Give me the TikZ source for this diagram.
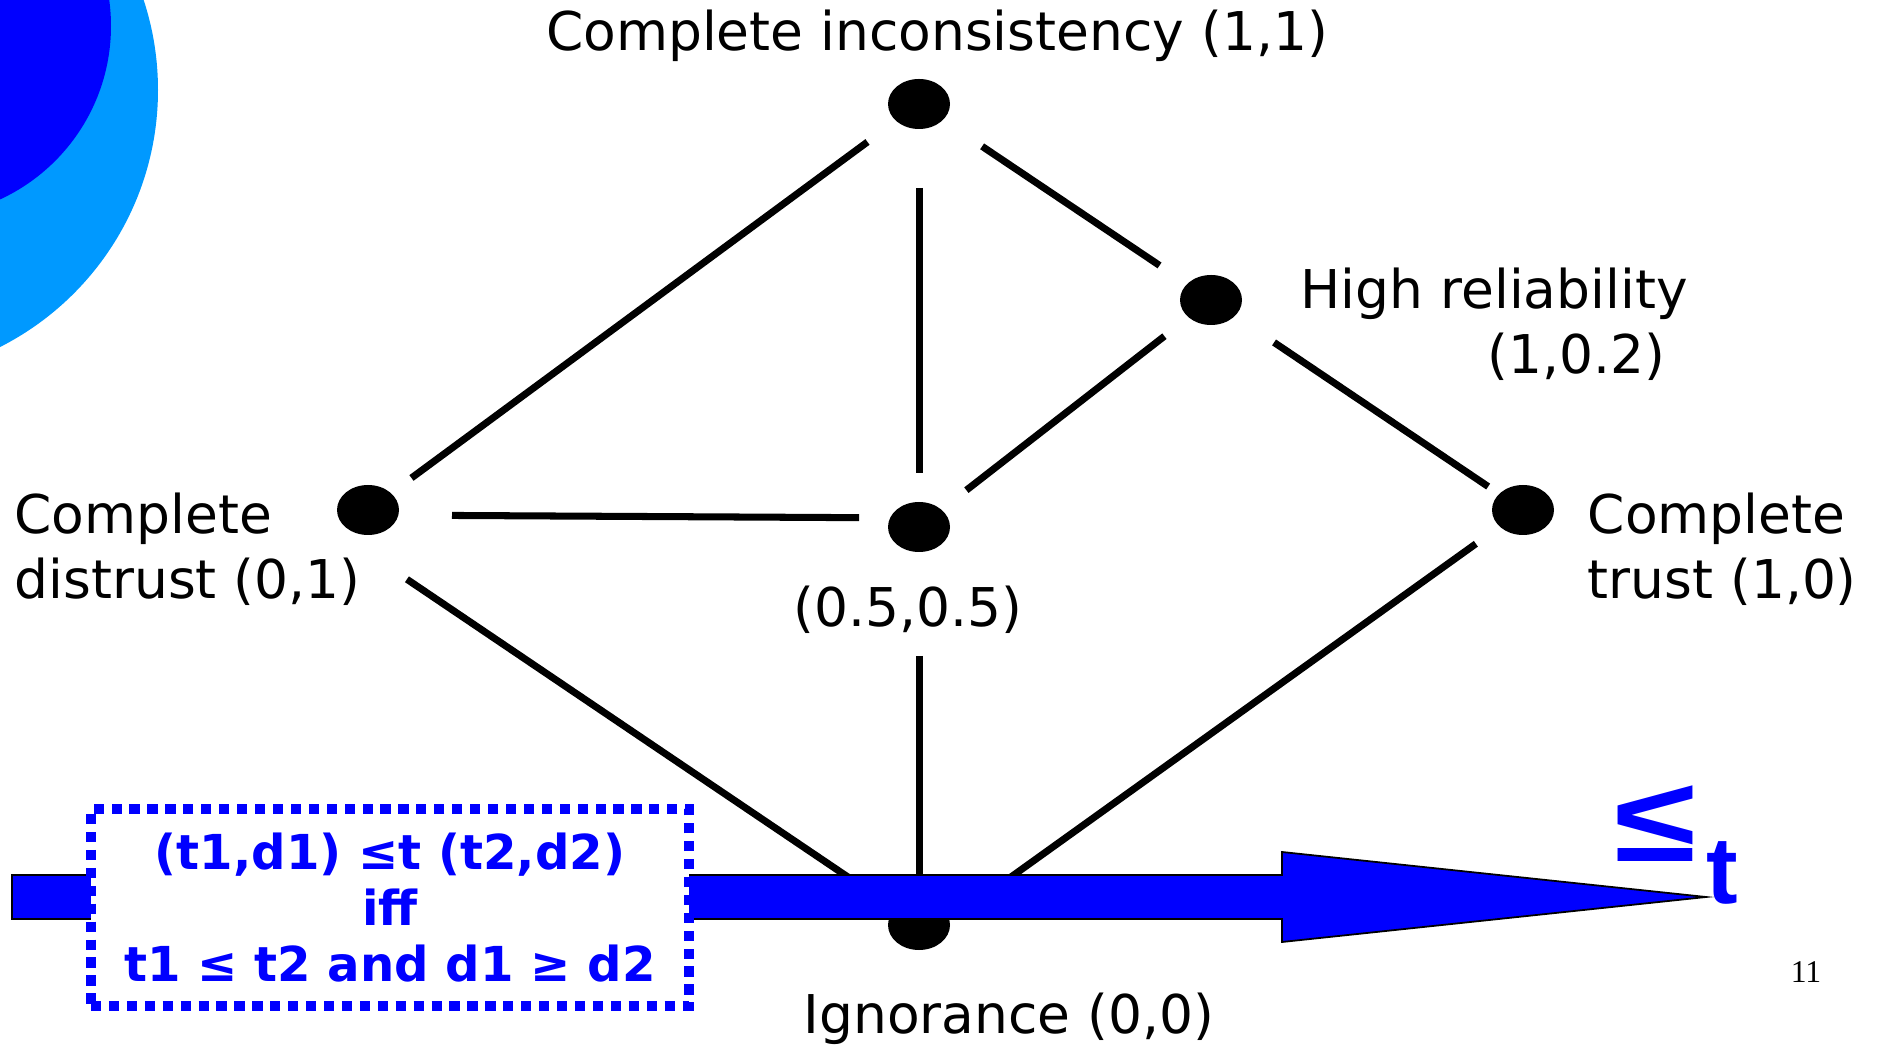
\documentclass[tikz,border=0pt]{standalone}
\usepackage{fontspec}
\setmainfont{DejaVu Sans}
\newfontfamily\pagenofont{Liberation Serif}
\newfontfamily\signfont{Liberation Sans}
\usetikzlibrary{shapes.geometric, positioning}
\definecolor{slideblue}{RGB}{0, 0, 255}
\definecolor{skyblue1}{RGB}{0, 153, 255}

\begin{document}
\begin{tikzpicture}[
  dot/.style={ellipse, fill=black, minimum width=0.62cm, minimum height=0.5cm, inner sep=0pt},
  link/.style={line width=2pt},
  lbl/.style={font=\fontsize{15.2}{18.5}\selectfont, inner sep=0pt},
  dotbox/.style={draw=slideblue, line width=2.9pt, dash pattern=on 2.9pt off 2.2pt, fill=white, text=slideblue,
    align=center, minimum width=5.98cm, minimum height=1.97cm, inner sep=0pt, font=\bfseries\fontsize{13.7}{16}\selectfont}
]
  \useasboundingbox (0,0) rectangle (18.77,10.48);
  \begin{scope}
    \clip (0,0) rectangle (18.77,10.48);
    \fill[skyblue1] (-1.30,9.58) circle (2.88);
    \fill[slideblue] (-0.80,10.22) circle (1.91);
  \end{scope}

  % lattice points
  \node[dot] (top) at (9.19, 9.44) {};
  \node[dot] (high) at (12.11, 7.48) {};
  \node[dot] (left) at (3.68, 5.38) {};
  \node[dot] (center) at (9.19, 5.21) {};
  \node[dot] (right) at (15.23, 5.38) {};
  \node[dot] (bottom) at (9.19, 1.23) {};

  \draw[link, shorten <=0.64cm, shorten >=0.54cm] (top.center) -- (left.center);
  \draw[link, shorten <=0.84cm, shorten >=0.54cm] (top.center) -- (center.center);
  \draw[link, shorten <=0.76cm, shorten >=0.62cm] (top.center) -- (high.center);
  \draw[link, shorten <=0.59cm, shorten >=0.60cm] (high.center) -- (center.center);
  \draw[link, shorten <=0.76cm, shorten >=0.42cm] (high.center) -- (right.center);
  \draw[link, shorten <=0.84cm, shorten >=0.60cm] ([yshift=-0.05cm]left.center) -- ([yshift=0.09cm]center.center);
  \draw[link, shorten <=0.47cm, shorten >=0.3cm] ([yshift=-0.43cm]left.center) -- (bottom.center);
  \draw[link, shorten <=1.29cm, shorten >=0.3cm] (center.center) -- (bottom.center);
  \draw[link, shorten <=0.58cm, shorten >=0.3cm] (right.center) -- ([xshift=0.25cm]bottom.center);

  % truth order arrow
  \draw[fill=slideblue, line width=0.5pt] (0.12,1.29) -- (0.12,1.73) -- (12.82,1.73) -- (12.82,1.96)
    -- (17.06,1.51) -- (12.82,1.06) -- (12.82,1.29) -- cycle;
  \node[dotbox] (order) at (3.90, 1.405) {
    (t1,d1) ≤t (t2,d2)\\
    iff\\
    t1 ≤ t2 and d1 ≥ d2
  };
  \node[anchor=base west, inner sep=0pt, text=slideblue, font=\signfont\bfseries] (leqt) at (16.14, 1.86)
    {\fontsize{34}{34}\selectfont\scalebox{1.25}[1]{≤}\hspace{0.1cm}\fontsize{27}{27}\selectfont\raisebox{-11.9pt}{t}};

  \node[lbl] (topl) at (9.37, 10.12) {Complete inconsistency (1,1)};
  \node[lbl, anchor=west, align=left] (highl) at (13.00, 7.235) {High reliability\\\hspace*{1.87cm}(1,0.2)};
  \node[lbl, anchor=west, align=left] (leftl) at (0.14, 4.99) {Complete\\distrust (0,1)};
  \node[lbl] (centerl) at (9.08, 4.38) {(0.5,0.5)};
  \node[lbl, anchor=west, align=left] (rightl) at (15.87, 4.99) {Complete\\trust (1,0)};
  \node[lbl] (bottoml) at (10.09, 0.29) {Ignorance (0,0)};
  \node[font=\pagenofont\fontsize{9}{9}\selectfont, inner sep=0pt] (pageno) at (18.06, 0.76) {11};
\end{tikzpicture}
\end{document}
